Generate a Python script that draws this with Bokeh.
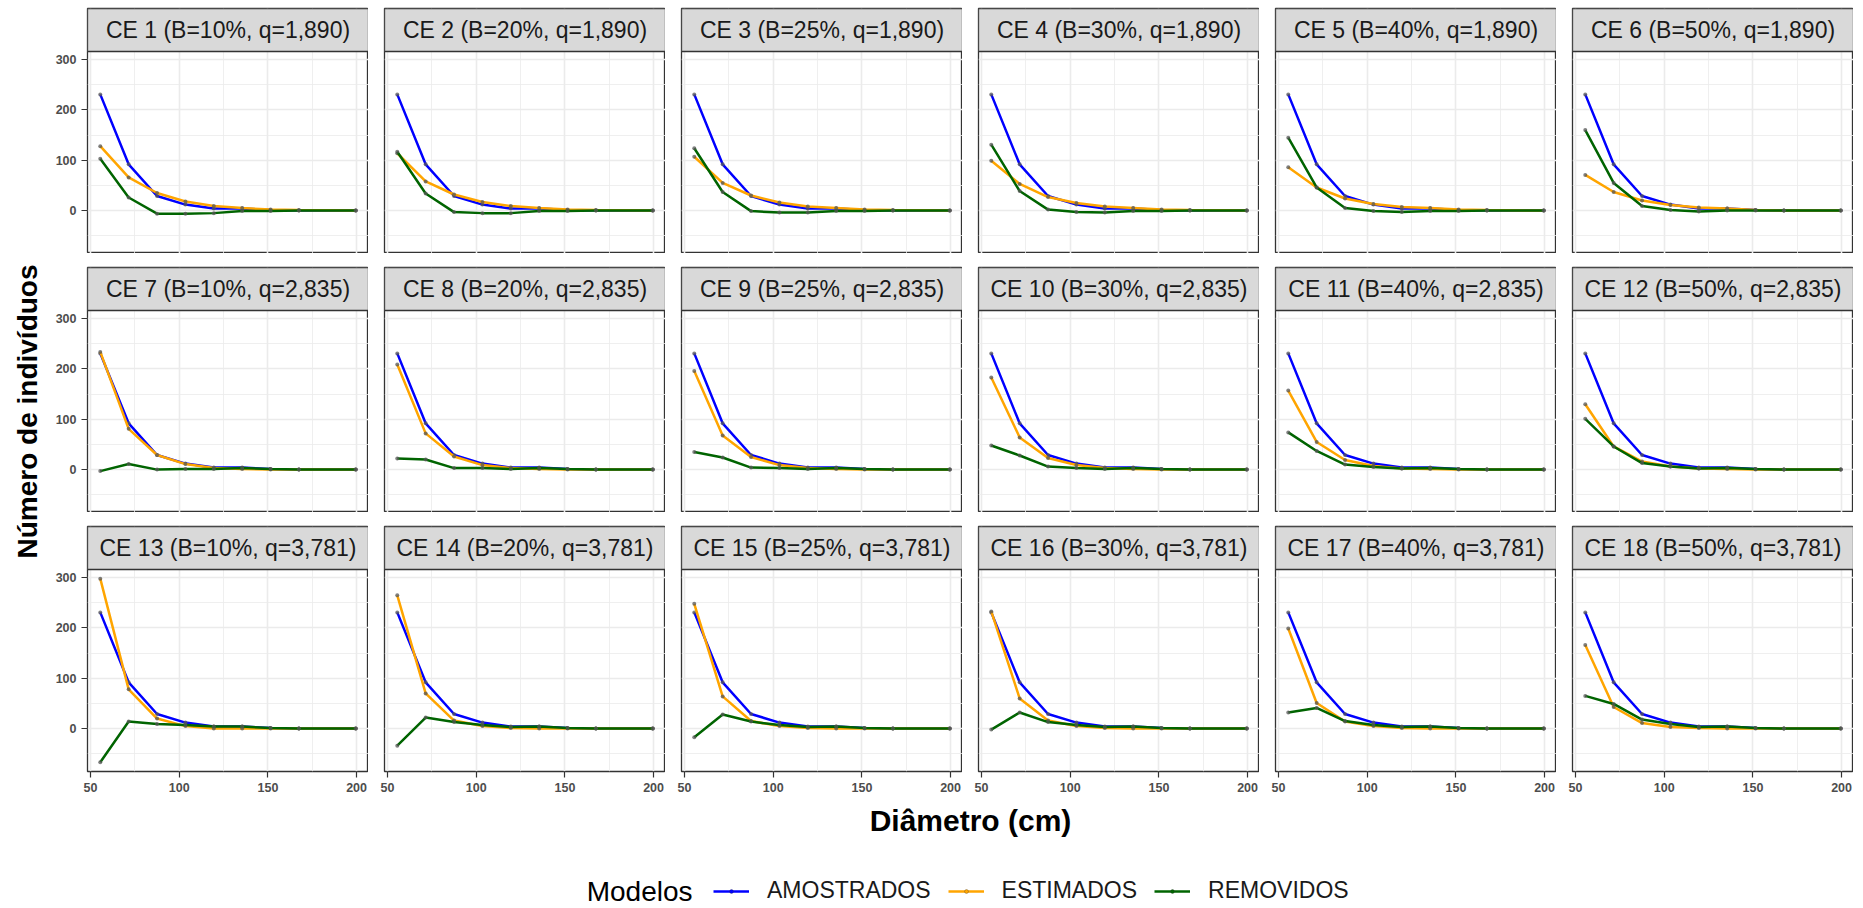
import math
from bokeh.plotting import figure
from bokeh.layouts import row, column
from bokeh.models import (Range1d, LinearAxis, FixedTicker, Grid, BoxAnnotation,
                          Label, Legend, LegendItem, ColumnDataSource)
from bokeh.embed import file_html
from bokeh.resources import INLINE

# ---------------- data ----------------
DIAMETRO = [55.5, 71.5, 87.5, 103.5, 119.5, 135.5, 151.5, 167.5, 199.5]
AMOSTRADOS = [231, 92, 29, 12, 4, 4, 1, 0, 0]

B_PCT = [10, 20, 25, 30, 40, 50]
Q_LABELS = ["1,890", "2,835", "3,781"]

ESTIMADOS_Q1 = [
    [128, 66, 35, 18, 9, 5, 2, 1, 0],
    [114, 58, 32, 17, 9, 5, 2, 1, 0],
    [107, 55, 30, 16, 8, 5, 2, 1, 0],
    [99, 53, 27, 15, 8, 5, 2, 1, 0],
    [86, 46, 24, 13, 7, 5, 2, 1, 0],
    [71, 37, 20, 11, 6, 4, 1, 0, 0],
]
REMOVIDOS_Q1 = [
    [103, 26, -6, -6, -5, -1, -1, 0, 0],
    [117, 34, -3, -5, -5, -1, -1, 0, 0],
    [124, 37, -1, -4, -4, -1, -1, 0, 0],
    [131, 39, 2, -3, -4, -1, -1, 0, 0],
    [145, 46, 5, -1, -3, -1, -1, 0, 0],
    [160, 55, 9, 1, -2, 0, 0, 0, 0],
]
ESTIMADOS_Q2 = [
    [234, 81, 29, 11, 3, 1, 0, 0, 0],
    [209, 72, 26, 9, 3, 1, 0, 0, 0],
    [196, 68, 25, 9, 3, 1, 0, 0, 0],
    [183, 64, 23, 9, 3, 1, 0, 0, 0],
    [157, 55, 19, 7, 2, 1, 0, 0, 0],
    [130, 46, 16, 6, 2, 1, 0, 0, 0],
]
REMOVIDOS_Q2 = [
    [-3, 11, 0, 1, 1, 3, 1, 0, 0],
    [22, 20, 3, 3, 1, 3, 1, 0, 0],
    [35, 24, 4, 3, 1, 3, 1, 0, 0],
    [48, 28, 6, 3, 1, 3, 1, 0, 0],
    [74, 37, 10, 5, 2, 3, 1, 0, 0],
    [101, 46, 13, 6, 2, 3, 1, 0, 0],
]
ESTIMADOS_Q3 = [
    [298, 78, 20, 5, 0, 0, 0, 0, 0],
    [265, 70, 16, 5, 1, 0, 0, 0, 0],
    [248, 64, 15, 5, 1, 0, 0, 0, 0],
    [233, 60, 16, 5, 1, 0, 0, 0, 0],
    [199, 51, 14, 5, 1, 0, 0, 0, 0],
    [166, 43, 11, 3, 1, 0, 0, 0, 0],
]
REMOVIDOS_Q3 = [
    [-67, 14, 9, 7, 4, 4, 1, 0, 0],
    [-34, 22, 13, 7, 3, 4, 1, 0, 0],
    [-17, 28, 14, 7, 3, 4, 1, 0, 0],
    [-2, 32, 13, 7, 3, 4, 1, 0, 0],
    [32, 41, 15, 7, 3, 4, 1, 0, 0],
    [65, 49, 18, 9, 3, 4, 1, 0, 0],
]

SERIES = ["AMOSTRADOS", "ESTIMADOS", "REMOVIDOS"]
COLORS = ["#0000FF", "#FFA500", "#006400"]
X_TICKS = [50, 100, 150, 200]
X_MINOR = [75, 125, 175]
Y_TICKS = [0, 100, 200, 300]
Y_MINOR = [-50, 50, 150, 250]

EST_ROWS = [ESTIMADOS_Q1, ESTIMADOS_Q2, ESTIMADOS_Q3]
REM_ROWS = [REMOVIDOS_Q1, REMOVIDOS_Q2, REMOVIDOS_Q3]

# ---------------- scales (ggplot-like 5% expansion) ----------------
all_y = list(AMOSTRADOS)
for grp in EST_ROWS + REM_ROWS:
    for s in grp:
        all_y += s
ymin, ymax = min(all_y), max(all_y)
ypad = 0.05 * (ymax - ymin)
y_lo, y_hi = ymin - ypad, ymax + ypad
xpad = 0.05 * (max(DIAMETRO) - min(DIAMETRO))
x_lo, x_hi = min(DIAMETRO) - xpad, max(DIAMETRO) + xpad

FRAME_W = 281
PLOT_H = 202
STRIP_H = 43
y_top = y_hi + STRIP_H / PLOT_H * (y_hi - y_lo)

FONT = "Liberation Sans"
BORDER = "#333333"


def style_axis(ax):
    ax.axis_line_color = None
    ax.major_tick_line_color = BORDER
    ax.major_tick_line_width = 1.2
    ax.major_tick_in = 0
    ax.major_tick_out = 6
    ax.minor_tick_line_color = None
    ax.major_label_standoff = 5
    ax.major_label_text_font = FONT
    ax.major_label_text_font_size = "12.5px"
    ax.major_label_text_font_style = "bold"
    ax.major_label_text_color = "#4D4D4D"


def make_panel(r, c):
    left = 37 if c == 0 else 16
    top = 8 if r == 0 else 14
    bottom = 28 if r == 2 else 0
    p = figure(width=left + FRAME_W, height=top + PLOT_H + STRIP_H + bottom,
               x_range=Range1d(x_lo, x_hi), y_range=Range1d(y_lo, y_top),
               x_axis_location=None, y_axis_location=None,
               toolbar_location=None, output_backend="svg",
               min_border_left=left, min_border_right=0,
               min_border_top=top, min_border_bottom=bottom,
               background_fill_color="white", border_fill_color="white",
               outline_line_color=BORDER, outline_line_width=1.3)
    p.center = []
    p.add_layout(Grid(dimension=0, ticker=FixedTicker(ticks=X_TICKS, minor_ticks=X_MINOR),
                      grid_line_color="#EBEBEB", grid_line_width=1.6,
                      minor_grid_line_color="#EBEBEB", minor_grid_line_width=0.8), "center")
    p.add_layout(Grid(dimension=1, ticker=FixedTicker(ticks=Y_TICKS, minor_ticks=Y_MINOR),
                      grid_line_color="#EBEBEB", grid_line_width=1.6,
                      minor_grid_line_color="#EBEBEB", minor_grid_line_width=0.8), "center")

    series = [AMOSTRADOS, EST_ROWS[r][c], REM_ROWS[r][c]]
    for ys, col in zip(series, COLORS):
        p.line(DIAMETRO, ys, line_color=col, line_width=2.5)
        p.scatter(DIAMETRO, ys, size=4, fill_color="#555555", line_color=None, fill_alpha=0.75)

    # facet strip
    p.add_layout(BoxAnnotation(left=x_lo, right=x_hi, bottom=y_hi, top=y_top,
                               fill_color="#D9D9D9", fill_alpha=1.0,
                               line_color=BORDER, line_width=1.3, line_alpha=1.0))
    n = r * 6 + c + 1
    title = f"CE {n} (B={B_PCT[c]}%, q={Q_LABELS[r]})"
    p.add_layout(Label(x=(x_lo + x_hi) / 2, y=(y_hi + y_top) / 2, text=title,
                       text_align="center", text_baseline="middle",
                       text_font=FONT, text_font_size="23px", text_color="#1A1A1A"))

    if c == 0:
        ax = LinearAxis(ticker=FixedTicker(ticks=Y_TICKS, minor_ticks=[]))
        style_axis(ax)
        p.add_layout(ax, "left")
    if r == 2:
        ax = LinearAxis(ticker=FixedTicker(ticks=X_TICKS, minor_ticks=[]))
        style_axis(ax)
        p.add_layout(ax, "below")
    return p


rows = []
for r in range(3):
    rows.append(row(*[make_panel(r, c) for c in range(6)], spacing=0))
panels = column(*rows, spacing=0)

# y-axis title (page pixel coordinates as data range)
yf = figure(width=50, height=799, x_range=Range1d(0, 50), y_range=Range1d(799, 0),
            x_axis_location=None, y_axis_location=None, toolbar_location=None,
            output_backend="svg", min_border_left=0, min_border_right=0,
            min_border_top=0, min_border_bottom=0, outline_line_color=None)
yf.center = []
yf.add_layout(Label(x=27, y=411, text="Número de indivíduos", angle=math.pi / 2,
                    text_align="center", text_baseline="middle",
                    text_font=FONT, text_font_size="28px", text_font_style="bold",
                    text_color="black"))

# footer: x title + legend
foot = figure(width=1855, height=109, x_range=Range1d(87, 1853), y_range=Range1d(908, 799),
              x_axis_location=None, y_axis_location=None, toolbar_location=None,
              output_backend="svg", min_border_left=87, min_border_right=2,
              min_border_top=0, min_border_bottom=0, outline_line_color=None)
foot.center = []
foot.add_layout(Label(x=970, y=820, text="Diâmetro (cm)", text_align="center",
                      text_baseline="middle", text_font=FONT, text_font_size="30px",
                      text_font_style="bold", text_color="black"))
foot.add_layout(Label(x=692, y=891, text="Modelos", text_align="right",
                      text_baseline="middle", text_font=FONT, text_font_size="28px",
                      text_color="black"))
# legend proxies (single point outside the visible footer range)
proxy = ColumnDataSource(dict(x=[0], y=[0]))
items = []
for name, col in zip(SERIES, COLORS):
    lr = foot.line("x", "y", source=proxy, line_color=col, line_width=2.6)
    sr = foot.scatter("x", "y", source=proxy, size=4, fill_color=col,
                      line_color="#333333", line_width=0.5, line_alpha=0.6)
    items.append(LegendItem(label=name, renderers=[lr, sr]))
leg = Legend(items=items, orientation="horizontal", location=(626, 4),
             label_text_font=FONT, label_text_font_size="23px", label_text_color="#1A1A1A",
             glyph_width=36, glyph_height=10, label_height=24, label_standoff=18,
             spacing=17, padding=0, margin=0, border_line_color=None,
             background_fill_alpha=0)
foot.add_layout(leg, "center")

layout = column(row(yf, panels, spacing=0), foot, spacing=0)

open("out.html", "w").write(file_html(layout, INLINE, title="plot"))
